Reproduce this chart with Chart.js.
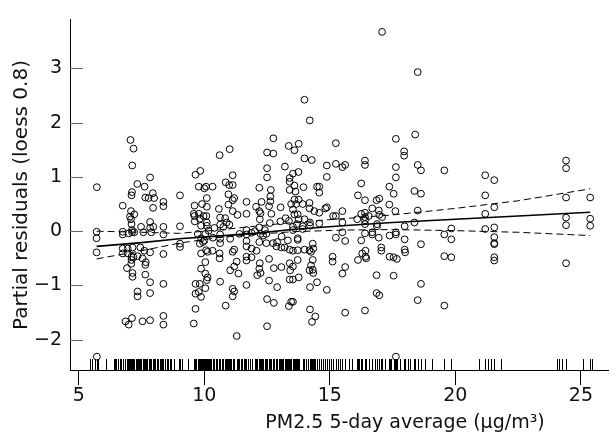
<!DOCTYPE html>
<html>
<head>
<meta charset="utf-8">
<script src="https://cdn.jsdelivr.net/npm/chart.js@4.4.0/dist/chart.umd.min.js"></script>
<style>
  html, body { margin: 0; padding: 0; background: #fff; }
  canvas { display: block; }
</style>
</head>
<body>
<canvas id="myChart" width="613" height="443"></canvas>
<script>
// PM2.5 5-day average (x) and partial residual (y) of each circle
const pmX = [
  7.06, 7.18, 7.13, 5.72, 7.84, 7.33, 7.62, 7.12, 7.10, 7.95, 7.65, 7.78, 8.00, 8.37, 8.37, 9.03,
  6.75, 7.96, 7.08, 7.21, 7.04, 7.08, 7.10, 7.84, 5.71, 5.71, 5.71, 6.75, 6.75, 7.12, 7.12, 7.21,
  6.99, 7.48, 7.57, 7.84, 7.89, 7.97, 8.37, 8.37, 9.03, 9.03, 9.03, 6.75, 6.95, 7.14, 6.75, 6.95,
  7.10, 7.10, 7.18, 7.45, 7.61, 7.84, 8.37, 7.34, 7.54, 7.65, 7.67, 7.09, 6.92, 7.14, 7.14, 7.65,
  7.84, 8.37, 7.34, 7.34, 7.84, 6.86, 6.99, 7.12, 7.54, 7.84, 8.37, 8.37, 5.72,

  10.61, 11.01, 12.50, 12.75, 12.75, 13.36, 13.21, 9.65, 9.84, 11.13, 12.50, 12.50, 9.78, 10.00,
  10.07, 10.33, 10.85, 10.99, 11.13, 12.19, 13.40, 13.40, 13.40, 12.65, 10.96, 10.10, 11.19, 11.13,
  12.63, 12.63, 9.61, 9.91, 10.10, 10.58, 10.96, 11.68, 12.06, 12.28, 12.58, 13.04, 13.46, 9.58,
  9.61, 9.78, 9.97, 10.08, 9.62, 9.82, 10.10, 10.10, 10.63, 10.83, 11.13, 11.32, 11.68, 12.19,
  12.24, 12.67, 10.89, 11.00, 10.63, 10.40, 10.76, 9.87, 12.21, 12.61, 13.03, 13.24, 13.37, 11.68,
  11.88, 12.02, 12.19, 12.41, 12.47, 12.24, 11.68, 12.34, 10.17, 10.04, 9.74, 9.87, 10.00, 9.95,
  10.34, 10.63, 10.63, 10.63, 11.03, 11.40, 11.68, 12.19, 12.47, 12.74, 12.90, 13.08, 13.33, 13.40,
  13.20, 13.07, 12.87, 9.82, 9.87, 10.07, 10.13, 10.33, 10.61, 10.61, 11.13, 11.19, 11.68, 11.88,
  12.08, 11.68, 11.68, 11.88, 12.21, 12.58, 11.29, 11.19, 11.03, 10.04, 9.87, 10.04, 10.13, 10.10,
  10.63, 11.36, 12.19, 12.24, 12.11, 12.77, 13.07, 13.40, 13.42, 9.65, 9.82, 10.04, 9.65, 9.78,
  9.87, 11.13, 11.19, 11.13, 11.68, 12.58, 12.90, 13.40, 12.50, 12.77, 13.37, 13.46, 9.65, 10.85,
  9.58, 12.50, 11.29,

  13.99, 14.20, 17.08, 18.50, 18.40, 17.63, 15.24, 13.76, 13.59, 17.96, 17.96, 13.99, 14.28, 15.24,
  15.50, 15.61, 14.88, 16.40, 16.40, 17.63, 17.63, 13.75, 13.53, 14.88, 16.25, 14.49, 14.58, 14.58,
  13.95, 13.59, 13.63, 16.12, 16.40, 16.86, 16.97, 17.37, 17.54, 13.59, 13.66, 13.76, 13.92, 14.19,
  14.19, 14.38, 14.58, 14.82, 14.88, 15.13, 15.24, 15.50, 13.59, 13.72, 13.76, 13.99, 13.53, 16.69,
  16.25, 16.40, 16.40, 16.55, 16.95, 16.97, 17.08, 17.37, 17.61, 16.09, 16.40, 16.40, 15.50, 14.58,
  14.21, 14.21, 13.69, 13.92, 13.92, 13.53, 13.53, 16.88, 16.88, 15.50, 16.40, 16.69, 16.69, 16.95,
  15.24, 15.61, 16.25, 13.72, 13.72, 17.63, 17.63, 17.38, 13.72, 13.53, 13.99, 14.19, 14.32, 14.34,
  14.25, 13.72, 13.53, 14.32, 14.25, 14.32, 14.19, 14.34, 15.11, 15.11, 15.61, 15.50, 16.12, 16.29,
  16.42, 16.42, 16.45, 17.05, 17.05, 17.38, 17.54, 17.67, 13.76, 13.53, 14.49, 14.21, 14.88, 16.86,
  17.54, 16.86, 16.97, 13.53, 14.21, 14.42, 14.29, 15.61, 16.40, 17.63,

  18.50, 18.63, 19.56, 21.19, 21.55, 18.37, 18.63, 21.19, 18.50, 21.55, 21.19, 18.37, 17.98, 19.84,
  21.19, 21.55, 19.56, 19.84, 17.98, 21.55, 21.55, 21.55, 18.63, 17.98, 18.00, 19.56, 19.84, 21.55,
  21.55, 18.63, 18.50, 19.56,

  24.41, 24.41, 24.41, 25.37, 24.41, 24.41, 25.37, 25.37, 24.41
]

const resid = [
  1.68, 1.52, 1.21, 0.81, 0.99, 0.87, 0.82, 0.72, 0.66, 0.70, 0.62, 0.61, 0.61, 0.54, 0.46, 0.66,
  0.47, 0.43, 0.37, 0.31, 0.27, 0.22, 0.13, 0.17, -0.01, -0.13, -0.39, -0.01, -0.06, 0.02, -0.02, -0.02,
  -0.04, 0.08, -0.02, 0.06, -0.02, 0.08, 0.08, -0.06, 0.09, -0.23, -0.29, -0.32, -0.32, -0.30, -0.41, -0.41,
  -0.47, -0.53, -0.48, -0.30, -0.36, -0.39, -0.42, -0.46, -0.50, -0.62, -0.57, -0.60, -0.68, -0.77, -0.84, -0.80,
  -0.94, -0.97, -1.11, -1.20, -1.14, -1.66, -1.72, -1.60, -1.66, -1.64, -1.56, -1.72, -2.31,

  1.40, 1.51, 1.45, 1.43, 1.71, 1.57, 1.19, 1.04, 1.11, 1.03, 1.16, 0.99, 0.82, 0.79,
  0.82, 0.82, 0.90, 0.85, 0.85, 0.80, 0.98, 0.91, 0.76, 0.76, 0.68, 0.61, 0.61, 0.57,
  0.64, 0.55, 0.47, 0.50, 0.45, 0.41, 0.49, 0.54, 0.45, 0.54, 0.46, 0.44, 0.50, 0.32,
  0.28, 0.32, 0.28, 0.28, 0.18, 0.23, 0.16, 0.10, 0.25, 0.24, 0.37, 0.30, 0.32, 0.37,
  0.33, 0.32, 0.16, 0.12, 0.12, 0.06, 0.08, 0.10, 0.22, 0.15, 0.18, 0.24, 0.19, 0.02,
  -0.03, 0.00, 0.07, 0.02, -0.05, -0.05, -0.06, -0.08, 0.01, -0.05, -0.05, -0.13, -0.17, -0.20,
  -0.12, -0.06, -0.14, -0.22, -0.14, -0.05, -0.18, -0.20, -0.22, -0.22, -0.20, -0.10, -0.17, -0.34,
  -0.30, -0.30, -0.28, -0.23, -0.41, -0.35, -0.38, -0.36, -0.41, -0.50, -0.38, -0.34, -0.28, -0.32,
  -0.36, -0.47, -0.54, -0.48, -0.59, -0.51, -0.56, -0.65, -0.72, -0.57, -0.69, -0.78, -0.85, -0.90,
  -0.93, -0.78, -0.69, -0.77, -0.81, -0.68, -0.66, -0.59, -0.72, -0.97, -0.97, -1.05, -1.15, -1.12,
  -1.21, -1.06, -1.11, -1.20, -0.99, -0.91, -1.03, -0.89, -1.25, -1.32, -1.38, -1.30, -1.43, -1.37,
  -1.70, -1.75, -1.93,

  2.42, 2.04, 3.67, 2.93, 1.78, 1.70, 1.62, 1.61, 1.49, 1.47, 1.39, 1.34, 1.31, 1.24,
  1.18, 1.22, 1.21, 1.30, 1.22, 1.18, 0.99, 1.09, 1.06, 1.00, 0.88, 0.82, 0.82, 0.71,
  0.81, 0.84, 0.73, 0.66, 0.57, 0.57, 0.60, 0.82, 0.69, 0.58, 0.50, 0.58, 0.50, 0.52,
  0.42, 0.37, 0.34, 0.42, 0.44, 0.28, 0.28, 0.37, 0.31, 0.31, 0.22, 0.22, 0.40, 0.42,
  0.32, 0.34, 0.26, 0.28, 0.38, 0.30, 0.26, 0.49, 0.37, 0.22, 0.20, 0.13, 0.16, 0.14,
  0.16, 0.10, 0.13, 0.09, 0.04, 0.08, 0.02, 0.13, 0.09, -0.02, -0.04, -0.02, -0.06, -0.12,
  -0.12, -0.18, -0.17, -0.13, -0.16, -0.02, -0.06, -0.08, -0.35, -0.36, -0.34, -0.35, -0.23, -0.32,
  -0.38, -0.53, -0.65, -0.53, -0.63, -0.71, -0.72, -0.77, -0.47, -0.56, -0.66, -0.78, -0.53, -0.41,
  -0.36, -0.47, -0.50, -0.30, -0.36, -0.47, -0.48, -0.51, -0.85, -0.89, -0.94, -1.03, -1.08, -0.81,
  -0.82, -1.14, -1.18, -1.30, -1.44, -1.57, -1.67, -1.50, -1.46, -2.31,

  1.22, 1.12, 1.12, 1.03, 0.94, 0.74, 0.69, 0.66, 0.38, 0.44, 0.32, 0.16, 0.09, 0.05,
  0.04, 0.07, -0.06, -0.15, -0.15, -0.11, -0.22, -0.24, -0.24, -0.34, -0.39, -0.46, -0.48, -0.48,
  -0.54, -0.97, -1.27, -1.37,

  1.30, 1.16, 0.62, 0.62, 0.25, 0.11, 0.23, 0.10, -0.59
]

// rug marks seen under the axis with no separate circle of their own
const rugX = [
  5.43, 5.53, 5.63, 5.76, 6.09, 6.39, 6.44, 6.50, 6.57, 6.63, 6.69, 7.26, 7.40, 7.72,
  8.05, 8.10, 8.16, 8.22, 8.28, 8.31, 8.44, 8.50, 8.56, 8.62, 8.66, 8.79, 8.99, 9.12, 9.35,
  10.22, 10.27, 10.46, 10.52, 10.70, 11.07, 11.46, 11.52, 11.58, 11.63, 11.75, 11.82, 12.30,
  12.96, 13.13, 13.28, 14.05, 14.12, 14.65, 14.72, 14.95, 15.03, 15.33, 15.40, 15.75, 15.90,
  16.18, 16.80, 17.20, 17.45, 17.80, 18.10, 18.20, 18.80, 19.05, 20.96, 21.30, 21.40, 21.82,
  24.06, 24.12, 24.25, 25.08, 25.44
]

// loess fit and its confidence band
const fitX = [5.71, 7.5, 9.0, 10.5, 12.0, 13.5, 15.5, 17.5, 20.0, 22.5, 25.37]
const fitY = [-0.28, -0.21, -0.14, -0.09, -0.04, 0.03, 0.10, 0.16, 0.22, 0.28, 0.35]
const upperY = [0.00, -0.02, -0.04, 0.02, 0.09, 0.16, 0.23, 0.30, 0.42, 0.56, 0.78]
const lowerY = [-0.51, -0.36, -0.22, -0.12, -0.06, -0.01, 0.02, 0.03, 0.01, -0.02, -0.08]

const xTicks = [5, 10, 15, 20, 25]
const yTicks = [-2, -1, 0, 1, 2, 3]

const xTitle = 'PM2.5 5-day average (\u03bcg/m\u00b3)'
const yTitle = 'Partial residuals (loess 0.8)'

const font = 'DejaVu Sans'
const toPoints = (xs, ys) => xs.map((v, i) => ({ x: v, y: ys[i] }))

const bandStyle = {
    type: 'line',
    borderColor: '#000',
    borderWidth: 1,
    borderDash: [7, 4],
    pointRadius: 0,
    fill: false
}

const extras = {
    id: 'extras',
    afterDatasetsDraw(chart) {
        const { ctx, chartArea, scales: { x, y } } = chart
        ctx.save()

        // rug along the x axis
        ctx.strokeStyle = '#000'
        ctx.lineWidth = 1
        ctx.beginPath()
        pmX.concat(rugX).forEach(v => {
            const px = Math.round(x.getPixelForValue(v)) + 0.5
            ctx.moveTo(px, chartArea.bottom - 11)
            ctx.lineTo(px, chartArea.bottom)
        })
        ctx.stroke()

        // y ticks point into the plot
        ctx.strokeStyle = '#666'
        ctx.beginPath()
        y.ticks.forEach(t => {
            const py = Math.round(y.getPixelForValue(t.value)) + 0.5
            ctx.moveTo(chartArea.left, py)
            ctx.lineTo(chartArea.left + 13, py)
        })
        ctx.stroke()

        ctx.fillStyle = '#111'
        ctx.textAlign = 'center'
        ctx.textBaseline = 'middle'
        ctx.font = '19px "' + font + '"'
        ctx.fillText(xTitle, 405, 423)

        ctx.translate(22, 195)
        ctx.rotate(-Math.PI / 2)
        ctx.font = '20px "' + font + '"'
        ctx.fillText(yTitle, 0, 0)
        ctx.restore()
    }
}

const ctx = document.getElementById('myChart').getContext('2d')

const chart = new Chart(ctx, {
    type: 'scatter',
    data: {
        datasets: [
            {
                type: 'line',
                data: toPoints(fitX, fitY),
                borderColor: '#000',
                borderWidth: 1.6,
                pointRadius: 0,
                fill: false
            },
            Object.assign({ data: toPoints(fitX, upperY) }, bandStyle),
            Object.assign({ data: toPoints(fitX, lowerY) }, bandStyle),
            {
                data: toPoints(pmX, resid),
                pointStyle: 'circle',
                pointRadius: 3.4,
                pointBorderWidth: 1,
                pointBorderColor: '#000',
                pointBackgroundColor: 'rgba(0,0,0,0)'
            }
        ]
    },
    options: {
        responsive: false,
        animation: false,
        devicePixelRatio: 1,
        layout: { padding: { top: 10, right: 0, left: 0, bottom: 0 } },
        plugins: {
            legend: { display: false },
            tooltip: { enabled: false }
        },
        scales: {
            x: {
                type: 'linear',
                min: 4.65,
                max: 26.08,
                afterFit: s => { s.height = 73 },
                afterBuildTicks: s => { s.ticks = xTicks.map(v => ({ value: v })) },
                border: { display: true, color: '#000', width: 1 },
                grid: { drawOnChartArea: false, drawTicks: true, tickLength: 15, color: '#000' },
                ticks: { color: '#111', padding: 0, font: { family: font, size: 19 } }
            },
            y: {
                type: 'linear',
                min: -2.556,
                max: 3.9,
                afterFit: s => { s.width = 70 },
                afterBuildTicks: s => { s.ticks = yTicks.map(v => ({ value: v })) },
                border: { display: true, color: '#000', width: 1 },
                grid: { drawOnChartArea: false, drawTicks: false },
                ticks: {
                    color: '#111',
                    padding: 8,
                    font: { family: font, size: 19 },
                    callback: v => v < 0 ? '\u2212' + Math.abs(v) : String(v)
                }
            }
        }
    },
    plugins: [extras]
})
</script>
</body>
</html>
